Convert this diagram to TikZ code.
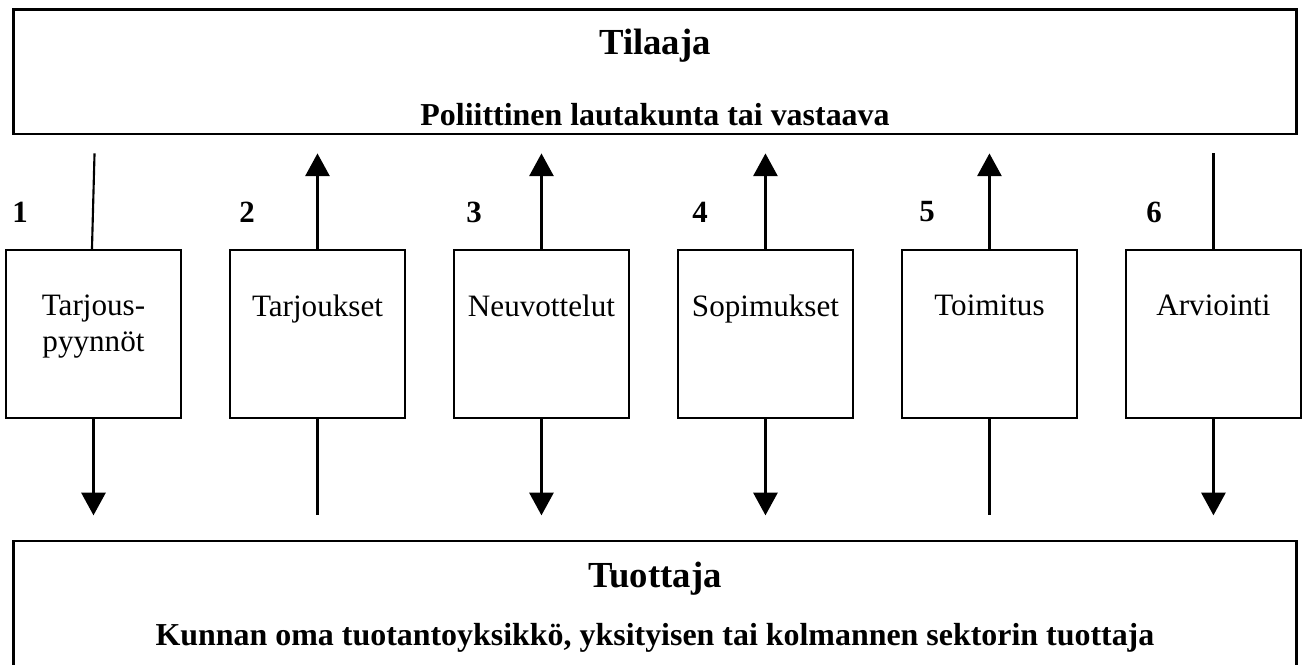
\documentclass[tikz,border=0pt]{standalone}
\usepackage{fontspec}
\setmainfont{Liberation Serif}
\usepackage{tikz}
\usetikzlibrary{arrows.meta, positioning, calc}

\tikzset{
  osapuoli/.style={draw, line width=1.1pt, minimum width=16.96cm, inner sep=0pt},
  vaihe/.style={draw, line width=0.8pt, minimum width=2.31cm, minimum height=2.22cm, inner sep=0pt},
  vaiheteksti/.style={anchor=north, yshift=-0.6cm, inner sep=0pt, align=center, font=\fontsize{11.7}{13.4}\selectfont},
  numero/.style={font=\fontsize{11.6}{13.4}\selectfont\bfseries, inner sep=0pt},
  yhteys/.style={line width=0.8pt},
  ylos/.style={yhteys, -{Triangle[width=0.32cm, length=0.3cm]}, shorten >=0.237cm},
  alas/.style={yhteys, -{Triangle[width=0.32cm, length=0.3cm]}, shorten >=0.32cm}
}

\begin{document}
\begin{tikzpicture}
  \useasboundingbox (0,0) rectangle (17.2,8.772);

  % Tilaaja (top)
  \node[osapuoli, minimum height=1.651cm] (tilaaja) at (8.653,7.827) {};
  \node[font=\fontsize{13.8}{16}\selectfont\bfseries, anchor=base] (tilaajaotsikko) at (8.653,8.058) {Tilaaja};
  \node[font=\fontsize{12}{14}\selectfont\bfseries, anchor=base] (tilaajateksti) at (8.653,7.120) {Poliittinen lautakunta tai vastaava};

  % Tuottaja (bottom, runs off the page)
  \node[osapuoli, minimum height=1.825cm] (tuottaja) at (8.653,0.7125) {};
  \node[font=\fontsize{13.8}{16}\selectfont\bfseries, anchor=base] (tuottajaotsikko) at (8.653,1.017) {Tuottaja};
  \node[font=\fontsize{12}{14}\selectfont\bfseries, anchor=base] (tuottajateksti) at (8.653,0.251) {Kunnan oma tuotantoyksikkö, yksityisen tai kolmannen sektorin tuottaja};

  % --- Phases ---
  \node[vaihe, label={[vaiheteksti]north:Tarjous-\\pyynnöt}] (pyynnot) at (1.235,4.359) {};
  \node[vaihe, label={[vaiheteksti]north:Tarjoukset}] (tarjoukset) at (4.194,4.359) {};
  \node[vaihe, label={[vaiheteksti]north:Neuvottelut}] (neuvottelut) at (7.153,4.359) {};
  \node[vaihe, label={[vaiheteksti]north:Sopimukset}] (sopimukset) at (10.112,4.359) {};
  \node[vaihe, label={[vaiheteksti]north:Toimitus}] (toimitus) at (13.071,4.359) {};
  \node[vaihe, label={[vaiheteksti]north:Arviointi}] (arviointi) at (16.030,4.359) {};

  % Numbers
  \node[numero] (n1) at (0.264,5.971) {1};
  \node[numero] (n2) at (3.263,5.971) {2};
  \node[numero] (n3) at (6.262,5.971) {3};
  \node[numero] (n4) at (9.247,5.971) {4};
  \node[numero] (n5) at (12.246,5.971) {5};
  \node[numero] (n6) at (15.245,5.971) {6};

  % --- Upper connectors ---
  \draw[yhteys, shorten >=0.237cm] ($(pyynnot.north)+(-0.02,0)$) -- ($(pyynnot.north |- tilaaja.south)+(0.02,0)$);
  \draw[ylos] (tarjoukset.north) -- (tarjoukset.north |- tilaaja.south);
  \draw[ylos] (neuvottelut.north) -- (neuvottelut.north |- tilaaja.south);
  \draw[ylos] (sopimukset.north) -- (sopimukset.north |- tilaaja.south);
  \draw[ylos] (toimitus.north) -- (toimitus.north |- tilaaja.south);
  \draw[yhteys, shorten >=0.237cm] (arviointi.north) -- (arviointi.north |- tilaaja.south);

  % --- Lower connectors ---
  \draw[alas] (pyynnot.south) -- (pyynnot.south |- tuottaja.north);
  \draw[yhteys, shorten >=0.32cm] (tarjoukset.south) -- (tarjoukset.south |- tuottaja.north);
  \draw[alas] (neuvottelut.south) -- (neuvottelut.south |- tuottaja.north);
  \draw[alas] (sopimukset.south) -- (sopimukset.south |- tuottaja.north);
  \draw[yhteys, shorten >=0.32cm] (toimitus.south) -- (toimitus.south |- tuottaja.north);
  \draw[alas] (arviointi.south) -- (arviointi.south |- tuottaja.north);
\end{tikzpicture}
\end{document}
